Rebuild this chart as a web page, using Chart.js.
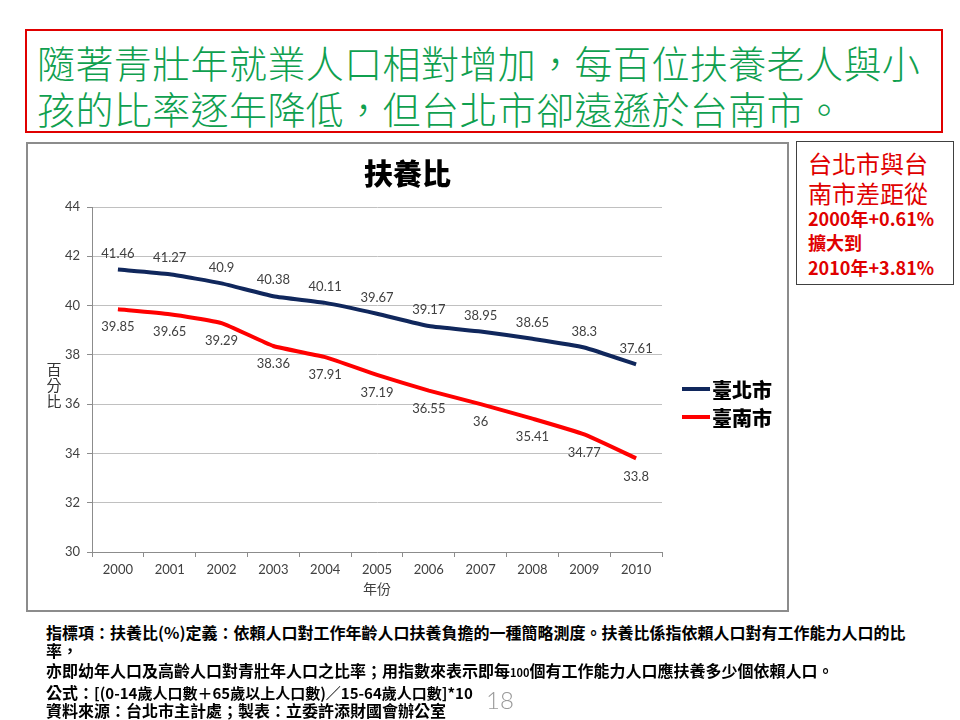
<!DOCTYPE html>
<html>
<head>
<meta charset="utf-8">
<script src="https://cdn.jsdelivr.net/npm/chart.js@4.4.0/dist/chart.umd.min.js"></script>
<style>
  html, body { margin:0; padding:0; }
  body { width:960px; height:720px; background:#fff; position:relative; overflow:hidden;
         font-family:"Noto Sans CJK TC", "Noto Sans", sans-serif; }
  .abs { position:absolute; white-space:nowrap; }
  #head { left:25px; top:29px; width:914px; height:100px; border:2px solid #e00000; }
  .hl { position:absolute; left:10px; font-size:38px; line-height:44px; color:#0fa04f; font-weight:300; letter-spacing:0.4px; }
  #frame { left:26px; top:142px; width:759px; height:466px; border:2px solid #8c8c8c; }
  #wrap { position:relative; width:759px; height:466px; }
  .yt { position:absolute; left:46px; width:16px; text-align:center; font-size:15px; line-height:16px; color:#333; }
  #side { left:796px; top:141px; width:156px; height:142px; border:1.5px solid #404040; color:#e00000; }
  .sl { position:absolute; left:11px; }
  .big { font-size:24px; line-height:28px; }
  .sm { font-size:18px; line-height:22px; font-weight:700; }
  .fn { position:absolute; left:46px; font-size:16px; line-height:18px; font-weight:700; color:#000; }
  #page { left:486px; top:686px; font-family:Lato, sans-serif; font-weight:300; font-size:24px; line-height:28px; color:#9a9a9a; }
</style>
</head>
<body>
<div id="head" class="abs">
  <div class="hl" style="top:9px;">隨著青壯年就業人口相對增加，每百位扶養老人與小</div>
  <div class="hl" style="top:55px;">孩的比率逐年降低，但台北市卻遠遜於台南市。</div>
</div>

<div id="frame" class="abs"><div id="wrap"><canvas id="c"></canvas></div></div>
<div class="yt" style="top:361px;">百</div>
<div class="yt" style="top:377px;">分</div>
<div class="yt" style="top:393px;">比</div>

<div id="side" class="abs">
  <div class="sl big" style="top:7px;">台北市與台</div>
  <div class="sl big" style="top:37px;">南市差距從</div>
  <div class="sl sm" style="top:65px;">2000年+0.61%</div>
  <div class="sl sm" style="top:89px;">擴大到</div>
  <div class="sl sm" style="top:114px;">2010年+3.81%</div>
</div>

<div class="fn" style="top:623px;">指標項：扶養比(%)定義：依賴人口對工作年齡人口扶養負擔的一種簡略測度。扶養比係指依賴人口對有工作能力人口的比</div>
<div class="fn" style="top:641px;">率，</div>
<div class="fn" style="top:661px;">亦即幼年人口及高齡人口對青壯年人口之比率；用指數來表示即每<span style="font-size:11px;">100</span>個有工作能力人口應扶養多少個依賴人口。</div>
<div class="fn" style="top:683px;">公式：<span style="font-size:15px;">[(0-14歲人口數＋65歲以上人口數)／15-64歲人口數]*10</span></div>
<div class="fn" style="top:701px;">資料來源：台北市主計處；製表：立委許添財國會辦公室</div>
<div id="page" class="abs">18</div>

<script>
// ---- data ----
const categories = ['2000','2001','2002','2003','2004','2005','2006','2007','2008','2009','2010'];
const taipei = [41.46, 41.27, 40.9, 40.38, 40.11, 39.67, 39.17, 38.95, 38.65, 38.3, 37.61];
const tainan = [39.85, 39.65, 39.29, 38.36, 37.91, 37.19, 36.55, 36, 35.41, 34.77, 33.8];
const seriesNames = ['臺北市', '臺南市'];
const yMin = 30, yMax = 44, yStep = 2;
const chartTitle = '扶養比';
const xTitle = '年份';

const colors = ['#10275c', '#ff0000'];
const labelOffsets = [-16, 18];

const valueLabels = {
  id: 'valueLabels',
  afterDatasetsDraw(chart) {
    const ctx = chart.ctx;
    ctx.save();
    ctx.font = '13px Lato, "Noto Sans", sans-serif';
    ctx.fillStyle = '#404040';
    ctx.textAlign = 'center';
    ctx.textBaseline = 'middle';
    chart.data.datasets.forEach((ds, i) => {
      const meta = chart.getDatasetMeta(i);
      meta.data.forEach((pt, j) => {
        ctx.fillText(String(ds.data[j]), pt.x, pt.y + labelOffsets[i]);
      });
    });
    ctx.restore();
  }
};

const centerTitle = {
  id: 'centerTitle',
  afterDraw(chart) {
    const ctx = chart.ctx;
    ctx.save();
    ctx.fillStyle = '#000';
    ctx.font = '900 29px "Noto Sans CJK TC", sans-serif';
    ctx.textAlign = 'center';
    ctx.textBaseline = 'middle';
    ctx.fillText(chartTitle, chart.width / 2, 30);
    ctx.restore();
  }
};

const sideLegend = {
  id: 'sideLegend',
  afterDraw(chart) {
    const { ctx, chartArea } = chart;
    const x0 = chartArea.right + 20;
    ctx.save();
    chart.data.datasets.forEach((ds, i) => {
      const y = chartArea.top + 182 + i * 28;
      ctx.strokeStyle = ds.borderColor;
      ctx.lineWidth = 4;
      ctx.beginPath();
      ctx.moveTo(x0, y);
      ctx.lineTo(x0 + 28, y);
      ctx.stroke();
      ctx.fillStyle = '#000';
      ctx.font = '900 20px "Noto Sans CJK TC", sans-serif';
      ctx.textAlign = 'left';
      ctx.textBaseline = 'middle';
      ctx.fillText(ds.label, x0 + 30, y + 1);
    });
    ctx.restore();
  }
};

new Chart(document.getElementById('c'), {
  type: 'line',
  data: {
    labels: categories,
    datasets: [
      { label: seriesNames[0], data: taipei, borderColor: colors[0], backgroundColor: colors[0],
        borderWidth: 4, pointRadius: 0, tension: 0.15, fill: false },
      { label: seriesNames[1], data: tainan, borderColor: colors[1], backgroundColor: colors[1],
        borderWidth: 4, pointRadius: 0, tension: 0.15, fill: false }
    ]
  },
  options: {
    responsive: true,
    maintainAspectRatio: false,
    animation: false,
    devicePixelRatio: 1,
    layout: { padding: { left: 0, right: 125, top: 63, bottom: 0 } },
    plugins: {
      legend: { display: false },
      tooltip: { enabled: false },
      title: { display: false }
    },
    scales: {
      x: {
        offset: true,
        afterFit(scale) { scale.height = 58; },
        grid: { display: true, offset: true, drawOnChartArea: false, drawTicks: true, tickLength: 5, color: '#8c8c8c' },
        border: { display: true, color: '#8c8c8c', width: 1 },
        ticks: { color: '#404040', font: { family: 'Lato, "Noto Sans", sans-serif', size: 13 }, padding: 5, maxRotation: 0 },
        title: { display: true, text: xTitle, color: '#404040',
                 font: { family: '"Noto Sans CJK TC", sans-serif', size: 14, lineHeight: 1.2 },
                 padding: { top: 0, bottom: 13 } }
      },
      y: {
        min: yMin, max: yMax,
        afterFit(scale) { scale.width = 64; },
        grid: { color: '#c0c0c0', lineWidth: 1, drawTicks: true, tickLength: 5, tickColor: '#8c8c8c' },
        border: { display: true, color: '#8c8c8c', width: 1 },
        ticks: { stepSize: yStep, color: '#404040', font: { family: 'Lato, "Noto Sans", sans-serif', size: 13 }, padding: 7 }
      }
    }
  },
  plugins: [valueLabels, centerTitle, sideLegend]
});
</script>
</body>
</html>
